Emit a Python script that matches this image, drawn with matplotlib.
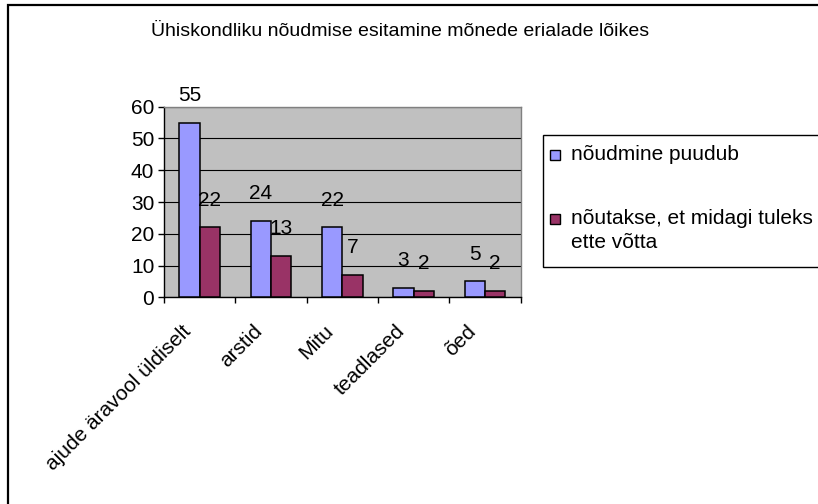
import matplotlib
matplotlib.use("Agg")
import matplotlib.pyplot as plt
from matplotlib.patches import Rectangle
from matplotlib.transforms import offset_copy
import numpy as np

plt.rcParams['font.family'] = ['Liberation Sans', 'DejaVu Sans']

title = "Ühiskondliku nõudmise esitamine mõnede erialade lõikes"
categories = ["ajude äravool üldiselt", "arstid", "Mitu", "teadlased", "õed"]
series_names = ["nõudmine puudub", "nõutakse, et midagi tuleks\nette võtta"]
values_a = [55, 24, 22, 3, 5]
values_b = [22, 13, 7, 2, 2]
yticks = [0, 10, 20, 30, 40, 50, 60]

col_a = "#9999FF"
col_b = "#993366"
plot_bg = "#C0C0C0"
FS = 15

W, H = 818, 504
fig = plt.figure(figsize=(W / 100, H / 100), dpi=100)

# outer chart border
fig.add_artist(Rectangle((8 / W, -0.1), 1.2, 1 - 5 / H + 0.1, transform=fig.transFigure,
                         fill=False, edgecolor="black", linewidth=1.6))

L, R, T, B = 164, 520.7, 106.7, 297.3
ax = fig.add_axes([L / W, 1 - B / H, (R - L) / W, (B - T) / H])
ax.set_facecolor(plot_bg)

x = np.arange(len(categories))
w = 0.286
bars_a = ax.bar(x - w / 2, values_a, w, color=col_a, edgecolor="black", linewidth=1.1, zorder=3)
bars_b = ax.bar(x + w / 2, values_b, w, color=col_b, edgecolor="black", linewidth=1.1, zorder=3)

for bars, vals in ((bars_a, values_a), (bars_b, values_b)):
    for b, v in zip(bars, vals):
        ax.annotate(str(v), (b.get_x() + b.get_width() / 2, v), xytext=(0, 19.5),
                    textcoords="offset points", ha="center", va="center", fontsize=FS,
                    annotation_clip=False, zorder=5)

ax.set_xlim(-0.5, len(categories) - 0.5)
ax.set_ylim(0, 60)
ax.set_yticks(yticks)
ax.set_yticklabels([str(t) for t in yticks], fontsize=FS)
ax.tick_params(axis="y", direction="out", length=4, width=1, pad=3)
ax.set_xticks(np.arange(len(categories) + 1) - 0.5)
ax.set_xticklabels([])
ax.tick_params(axis="x", direction="out", length=4, width=1)
ax.grid(axis="y", color="black", linewidth=0.8, zorder=1)
ax.set_axisbelow(True)
for s in ("left", "bottom"):
    ax.spines[s].set_color("black")
    ax.spines[s].set_linewidth(1.0)
for s in ("top", "right"):
    ax.spines[s].set_color("#808080")
    ax.spines[s].set_linewidth(1.0)

# rotated category labels
trans = offset_copy(ax.get_xaxis_transform(), fig=fig, x=-12, y=-31, units="dots")
for xi, c in zip(x, categories):
    ax.text(xi, 0, c, transform=trans, rotation=45, rotation_mode="anchor",
            ha="right", va="center", fontsize=FS)

# title
fig.text(400 / W, 1 - 32 / H, title, ha="center", va="center", fontsize=14)

# legend (manual, Excel style)
fig.add_artist(Rectangle((543 / W, 1 - 267 / H), 0.5, (267 - 135) / H, transform=fig.transFigure,
                         fill=True, facecolor="white", edgecolor="black", linewidth=1.0))
leg_items = [(col_a, series_names[0], 155), (col_b, series_names[1], 219)]
for col, lab, yc in leg_items:
    sq = 10
    fig.add_artist(Rectangle((550 / W, 1 - (yc + sq / 2) / H), sq / W, sq / H,
                             transform=fig.transFigure, facecolor=col, edgecolor="black", linewidth=1.0))
    fig.text(571 / W, 1 - (yc - 10) / H, lab, ha="left", va="top", fontsize=FS, linespacing=1.3)

fig.savefig("out.png", dpi=100)
